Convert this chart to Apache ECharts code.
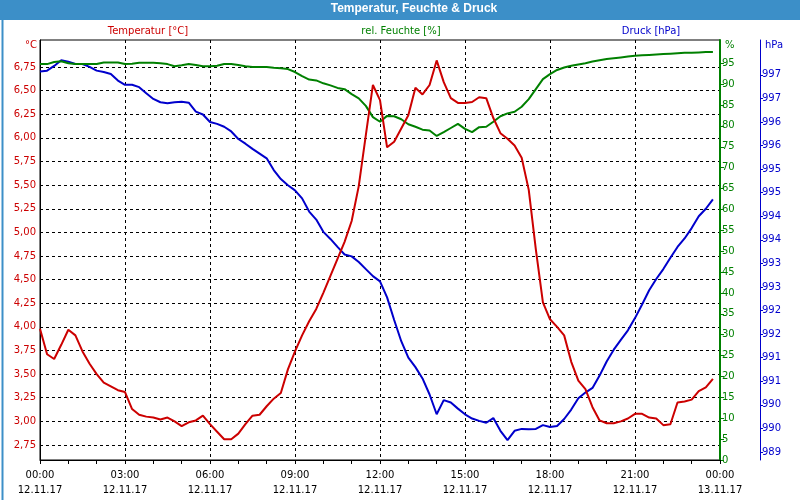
<!DOCTYPE html>
<html>
<head>
<meta charset="utf-8">
<script src="https://cdn.jsdelivr.net/npm/echarts@6/dist/echarts.min.js"></script>
<style>
html,body{margin:0;padding:0;background:#fff;}
#chart{width:800px;height:500px;}
</style>
</head>
<body>
<div id="chart"></div>
<script>
// ---- data (15-minute readings, 12.11.17 00:00 - 23:45) ----
const temperature = [
  3.98,3.71,3.66,3.81,3.97,3.91,3.74,3.61,3.50,3.41,3.37,3.33,
  3.31,3.13,3.07,3.05,3.04,3.02,3.04,3.00,2.95,2.99,3.01,3.06,
  2.97,2.89,2.81,2.81,2.87,2.97,3.06,3.07,3.16,3.24,3.30,3.55,
  3.74,3.91,4.06,4.19,4.36,4.54,4.72,4.90,5.12,5.49,6.03,6.56,
  6.40,5.90,5.96,6.10,6.24,6.53,6.46,6.56,6.82,6.59,6.42,6.37,
  6.37,6.38,6.43,6.42,6.21,6.05,5.99,5.92,5.79,5.45,4.82,4.26,
  4.08,4.00,3.91,3.63,3.43,3.34,3.15,3.01,2.98,2.98,3.00,3.03,
  3.08,3.08,3.04,3.03,2.96,2.97,3.20,3.21,3.23,3.32,3.36,3.45
];
const humidity = [
  94.8,94.8,95.3,95.5,95.0,94.8,94.8,94.8,94.8,95.2,95.2,95.2,
  94.8,94.9,95.1,95.1,95.1,95.0,94.8,94.3,94.5,94.8,94.6,94.3,
  94.3,94.4,94.8,94.8,94.6,94.3,94.1,94.1,94.1,93.9,93.8,93.6,
  92.9,91.9,91.1,90.9,90.2,89.7,89.1,88.8,87.6,86.6,84.8,82.1,
  81.0,82.4,82.3,81.6,80.4,79.8,79.1,78.9,77.6,78.5,79.5,80.5,
  79.3,78.5,79.7,79.8,81.0,82.3,83.0,83.4,84.6,86.4,88.8,91.2,
  92.4,93.4,94.0,94.4,94.7,95.0,95.4,95.7,96.0,96.2,96.4,96.6,
  96.8,96.9,97.0,97.1,97.2,97.3,97.4,97.5,97.5,97.6,97.7,97.7
];
const pressure = [
  997.07,997.09,997.19,997.31,997.28,997.23,997.23,997.17,997.09,997.06,997.02,996.88,
  996.79,996.79,996.74,996.61,996.49,996.42,996.40,996.42,996.43,996.41,996.22,996.16,
  996.00,995.96,995.90,995.80,995.64,995.54,995.43,995.33,995.23,994.98,994.79,994.66,
  994.55,994.38,994.10,993.93,993.67,993.52,993.35,993.19,993.15,993.03,992.88,992.73,
  992.62,992.28,991.80,991.35,991.00,990.80,990.56,990.22,989.80,990.10,990.05,989.92,
  989.80,989.71,989.66,989.62,989.72,989.45,989.25,989.45,989.49,989.48,989.49,989.57,
  989.53,989.55,989.70,989.90,990.14,990.26,990.36,990.62,990.92,991.17,991.38,991.58,
  991.84,992.13,992.43,992.67,992.88,993.12,993.35,993.53,993.75,994.00,994.16,994.36
];
const tempTicks = [2.75,3.00,3.25,3.50,3.75,4.00,4.25,4.50,4.75,5.00,5.25,5.50,5.75,6.00,6.25,6.50,6.75];
const humTicks = [0,5,10,15,20,25,30,35,40,45,50,55,60,65,70,75,80,85,90,95];
const pressTicks = [989,989.5,990,990.5,991,991.5,992,992.5,993,993.5,994,994.5,995,995.5,996,996.5,997];
const seriesNames = ['Temperatur [°C]', 'rel. Feuchte [%]', 'Druck [hPa]'];
const chartTitle = 'Temperatur, Feuchte & Druck';

// time categories, every 15 minutes, 00:00 12.11.17 .. 00:00 13.11.17
const categories = [];
for (let i = 0; i <= 96; i++) {
  const m = i * 15;
  const h = Math.floor(m / 60) % 24;
  const mm = m % 60;
  const day = m >= 1440 ? '13.11.17' : '12.11.17';
  categories.push(String(h).padStart(2, '0') + ':' + String(mm).padStart(2, '0') + '\n' + day);
}

const RED = '#cc0000', GREEN = '#008000', BLUE = '#0000cc';
const FONT = 'DejaVu Sans';

const chart = echarts.init(document.getElementById('chart'), null, {renderer: 'canvas'});
chart.setOption({
  animation: false,
  backgroundColor: '#ffffff',
  textStyle: {fontFamily: FONT},
  grid: {left: 40, right: 80, top: 40, bottom: 40, show: true, borderColor: '#000', borderWidth: 1, backgroundColor: 'transparent'},
  graphic: [
    {type: 'rect', left: 0, top: 0, shape: {width: 800, height: 20}, style: {fill: '#3c8fc8'}, silent: true, z: -1},
    {type: 'rect', left: 0, top: 0, shape: {width: 799, height: 499}, style: {fill: 'none', stroke: '#3c8fc8', lineWidth: 2}, silent: true, z: -1},
    {type: 'text', x: 414, y: 3, style: {text: chartTitle, fill: '#fff', font: 'bold 12px "Liberation Sans"', textAlign: 'center'}},
    {type: 'text', x: 148, y: 26, style: {text: seriesNames[0], fill: RED, font: '10px ' + FONT, textAlign: 'center'}},
    {type: 'text', x: 401, y: 26, style: {text: seriesNames[1], fill: GREEN, font: '10px ' + FONT, textAlign: 'center'}},
    {type: 'text', x: 651, y: 26, style: {text: seriesNames[2], fill: BLUE, font: '10px ' + FONT, textAlign: 'center'}},
    {type: 'text', x: 37, y: 40, style: {text: '°C', fill: RED, font: '10px ' + FONT, textAlign: 'right'}},
    {type: 'text', x: 725, y: 40, style: {text: '%', fill: GREEN, font: '10px ' + FONT, textAlign: 'left'}},
    {type: 'text', x: 765, y: 40, style: {text: 'hPa', fill: BLUE, font: '10px ' + FONT, textAlign: 'left'}}
  ],
  xAxis: {
    type: 'category',
    data: categories,
    boundaryGap: false,
    axisLine: {lineStyle: {color: '#000', width: 1}},
    axisTick: {interval: 3, length: 4, lineStyle: {color: '#000'}},
    axisLabel: {interval: 11, color: '#000', fontSize: 10, fontFamily: FONT, lineHeight: 15, margin: 8},
    splitLine: {show: true, interval: 11, lineStyle: {color: '#000', type: [3, 3], width: 1}}
  },
  yAxis: [
    {
      type: 'value', position: 'left', min: 2.591, max: 7.036,
      axisLine: {show: true, lineStyle: {color: '#000'}},
      axisTick: {show: false, customValues: tempTicks},
      axisLabel: {customValues: tempTicks, color: RED, fontSize: 10, fontFamily: FONT, margin: 4,
        formatter: v => v.toFixed(2).replace('.', ',')},
      splitLine: {show: true, lineStyle: {color: '#000', type: [3, 3], width: 1}}
    },
    {
      type: 'value', position: 'right', min: 0, max: 100.57,
      axisLine: {show: true, lineStyle: {color: GREEN, width: 2}},
      axisTick: {show: true, customValues: humTicks, length: 4, lineStyle: {color: GREEN}},
      axisLabel: {customValues: humTicks, color: GREEN, fontSize: 10, fontFamily: FONT, margin: 2},
      splitLine: {show: false}
    },
    {
      type: 'value', position: 'right', offset: 40, min: 988.83, max: 997.74,
      axisLine: {show: true, lineStyle: {color: BLUE, width: 1}},
      axisTick: {show: true, customValues: pressTicks, length: 3, lineStyle: {color: BLUE}},
      axisLabel: {customValues: pressTicks, color: BLUE, fontSize: 10, fontFamily: FONT, margin: 2,
        formatter: v => String(Math.round(v))},
      splitLine: {show: false}
    }
  ],
  series: [
    {name: seriesNames[2], type: 'line', yAxisIndex: 2, data: pressure, showSymbol: false, symbol: 'none',
      lineStyle: {color: BLUE, width: 2}, itemStyle: {color: BLUE}},
    {name: seriesNames[1], type: 'line', yAxisIndex: 1, data: humidity, showSymbol: false, symbol: 'none',
      lineStyle: {color: GREEN, width: 2}, itemStyle: {color: GREEN}},
    {name: seriesNames[0], type: 'line', yAxisIndex: 0, data: temperature, showSymbol: false, symbol: 'none',
      lineStyle: {color: RED, width: 2}, itemStyle: {color: RED}}
  ]
});
</script>
</body>
</html>
